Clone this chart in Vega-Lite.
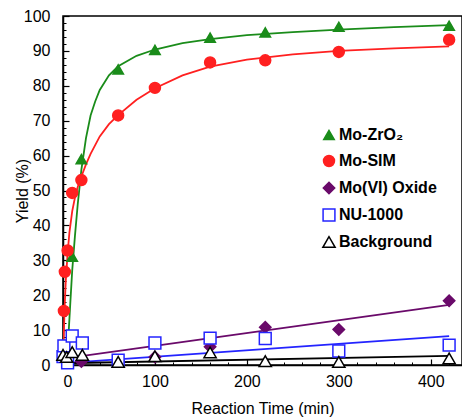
{
  "$schema": "https://vega.github.io/schema/vega-lite/v6.json",
  "width": 399,
  "height": 349,
  "autosize": {"type": "none"},
  "padding": {"left": 63, "top": 16, "right": 0, "bottom": 53},
  "background": "white",
  "config": {
    "view": {"stroke": "black", "strokeWidth": 1.5},
    "font": "Liberation Sans",
    "axis": {"grid": false, "domainColor": "black", "domainWidth": 1.5, "tickColor": "black", "labelColor": "black", "titleColor": "black"},
    "legend": {"orient": "none", "legendX": 258, "legendY": 111, "labelFontSize": 16, "labelFontWeight": "bold", "labelColor": "black", "symbolSize": 55, "symbolStrokeWidth": 1.5, "rowPadding": 9, "labelOffset": 2, "titleLimit": 0}
  },
  "datasets": {
    "pts": [
      {"s": "Mo-ZrO₂", "t": 10, "y": 31},
      {"s": "Mo-ZrO₂", "t": 20, "y": 59},
      {"s": "Mo-ZrO₂", "t": 60, "y": 84.7},
      {"s": "Mo-ZrO₂", "t": 100, "y": 90.3},
      {"s": "Mo-ZrO₂", "t": 160, "y": 93.8},
      {"s": "Mo-ZrO₂", "t": 220, "y": 95.3},
      {"s": "Mo-ZrO₂", "t": 300, "y": 96.9},
      {"s": "Mo-ZrO₂", "t": 420, "y": 97.2},
      {"s": "Mo-SIM", "t": 1, "y": 15.5},
      {"s": "Mo-SIM", "t": 2, "y": 26.7},
      {"s": "Mo-SIM", "t": 5, "y": 32.8},
      {"s": "Mo-SIM", "t": 10, "y": 49.3},
      {"s": "Mo-SIM", "t": 20, "y": 53},
      {"s": "Mo-SIM", "t": 60, "y": 71.5},
      {"s": "Mo-SIM", "t": 100, "y": 79.4},
      {"s": "Mo-SIM", "t": 160, "y": 86.7},
      {"s": "Mo-SIM", "t": 220, "y": 87.3},
      {"s": "Mo-SIM", "t": 300, "y": 89.7},
      {"s": "Mo-SIM", "t": 420, "y": 93.2},
      {"s": "Mo(VI) Oxide", "t": 20, "y": 1},
      {"s": "Mo(VI) Oxide", "t": 60, "y": 1.2},
      {"s": "Mo(VI) Oxide", "t": 100, "y": 2.3},
      {"s": "Mo(VI) Oxide", "t": 160, "y": 5.2},
      {"s": "Mo(VI) Oxide", "t": 220, "y": 10.8},
      {"s": "Mo(VI) Oxide", "t": 300, "y": 10.2},
      {"s": "Mo(VI) Oxide", "t": 420, "y": 18.4},
      {"s": "NU-1000", "t": 0, "y": 2.4},
      {"s": "NU-1000", "t": 1, "y": 5.5},
      {"s": "NU-1000", "t": 5, "y": 0.6},
      {"s": "NU-1000", "t": 10, "y": 8.3},
      {"s": "NU-1000", "t": 21, "y": 6.3},
      {"s": "NU-1000", "t": 60, "y": 1.4},
      {"s": "NU-1000", "t": 100, "y": 6.3},
      {"s": "NU-1000", "t": 160, "y": 7.7},
      {"s": "NU-1000", "t": 220, "y": 7.6},
      {"s": "NU-1000", "t": 300, "y": 4},
      {"s": "NU-1000", "t": 420, "y": 5.7},
      {"s": "Background", "t": 0, "y": 2.9},
      {"s": "Background", "t": 4, "y": 2.3},
      {"s": "Background", "t": 10, "y": 3.7},
      {"s": "Background", "t": 21, "y": 2.9},
      {"s": "Background", "t": 60, "y": 0.9},
      {"s": "Background", "t": 100, "y": 2.5},
      {"s": "Background", "t": 160, "y": 3.6},
      {"s": "Background", "t": 220, "y": 1.1},
      {"s": "Background", "t": 300, "y": 0.9},
      {"s": "Background", "t": 420, "y": 1.9}
    ],
    "fit": [
      {"s": "Mo-ZrO₂", "t": 3, "y": 0},
      {"s": "Mo-ZrO₂", "t": 5, "y": 4},
      {"s": "Mo-ZrO₂", "t": 8, "y": 18},
      {"s": "Mo-ZrO₂", "t": 10, "y": 27},
      {"s": "Mo-ZrO₂", "t": 13, "y": 37},
      {"s": "Mo-ZrO₂", "t": 16, "y": 46},
      {"s": "Mo-ZrO₂", "t": 20, "y": 56},
      {"s": "Mo-ZrO₂", "t": 25, "y": 65},
      {"s": "Mo-ZrO₂", "t": 30, "y": 71.5},
      {"s": "Mo-ZrO₂", "t": 35, "y": 75.5},
      {"s": "Mo-ZrO₂", "t": 40, "y": 78.8},
      {"s": "Mo-ZrO₂", "t": 50, "y": 83},
      {"s": "Mo-ZrO₂", "t": 60, "y": 85.6},
      {"s": "Mo-ZrO₂", "t": 80, "y": 88.6},
      {"s": "Mo-ZrO₂", "t": 100, "y": 90.4},
      {"s": "Mo-ZrO₂", "t": 130, "y": 92.2},
      {"s": "Mo-ZrO₂", "t": 160, "y": 93.4},
      {"s": "Mo-ZrO₂", "t": 200, "y": 94.5},
      {"s": "Mo-ZrO₂", "t": 250, "y": 95.4},
      {"s": "Mo-ZrO₂", "t": 300, "y": 96.1},
      {"s": "Mo-ZrO₂", "t": 360, "y": 96.8},
      {"s": "Mo-ZrO₂", "t": 420, "y": 97.4},
      {"s": "Mo-SIM", "t": 0, "y": 0},
      {"s": "Mo-SIM", "t": 1, "y": 10},
      {"s": "Mo-SIM", "t": 2, "y": 18},
      {"s": "Mo-SIM", "t": 3, "y": 24},
      {"s": "Mo-SIM", "t": 5, "y": 32},
      {"s": "Mo-SIM", "t": 7, "y": 38},
      {"s": "Mo-SIM", "t": 10, "y": 44},
      {"s": "Mo-SIM", "t": 13, "y": 48},
      {"s": "Mo-SIM", "t": 16, "y": 51},
      {"s": "Mo-SIM", "t": 20, "y": 54},
      {"s": "Mo-SIM", "t": 25, "y": 57.5},
      {"s": "Mo-SIM", "t": 30, "y": 60.5},
      {"s": "Mo-SIM", "t": 40, "y": 65.5},
      {"s": "Mo-SIM", "t": 50, "y": 69},
      {"s": "Mo-SIM", "t": 60, "y": 71.6},
      {"s": "Mo-SIM", "t": 80, "y": 76},
      {"s": "Mo-SIM", "t": 100, "y": 79.3},
      {"s": "Mo-SIM", "t": 130, "y": 83},
      {"s": "Mo-SIM", "t": 160, "y": 85.5},
      {"s": "Mo-SIM", "t": 200, "y": 87.5},
      {"s": "Mo-SIM", "t": 250, "y": 89},
      {"s": "Mo-SIM", "t": 300, "y": 90},
      {"s": "Mo-SIM", "t": 360, "y": 90.7},
      {"s": "Mo-SIM", "t": 420, "y": 91.3},
      {"s": "Mo(VI) Oxide", "t": 10, "y": 2.2},
      {"s": "Mo(VI) Oxide", "t": 420, "y": 17.2},
      {"s": "NU-1000", "t": 5, "y": 0.6},
      {"s": "NU-1000", "t": 420, "y": 8.3},
      {"s": "Background", "t": 0, "y": 0.5},
      {"s": "Background", "t": 420, "y": 2.6}
    ],
    "minor": [
      {"t": 0, "y": 0}
    ]
  },
  "layer": [
    {
      "data": {"name": "fit"},
      "mark": {"type": "line", "strokeWidth": 1.8, "clip": true},
      "encoding": {
        "x": {
          "field": "t", "type": "quantitative",
          "scale": {"domain": [0, 434], "nice": false, "zero": false},
          "axis": {"values": [0, 100, 200, 300, 400], "tickSize": -6, "tickWidth": 1.2, "labelFontSize": 16, "labelPadding": 14, "title": "Reaction Time (min)", "titleFontSize": 16, "titleFontWeight": "normal", "titleY": 35}
        },
        "y": {
          "field": "y", "type": "quantitative",
          "scale": {"domain": [0, 100], "nice": false},
          "axis": {"values": [0, 10, 20, 30, 40, 50, 60, 70, 80, 90, 100], "tickSize": -6, "tickWidth": 1.2, "labelFontSize": 16, "labelPadding": 19, "title": "Yield (%)", "titleFontSize": 16, "titleFontWeight": "normal", "titleX": -33}
        },
        "detail": {"field": "s", "type": "nominal"},
        "stroke": {
          "field": "s", "type": "nominal",
          "scale": {"domain": ["Mo-ZrO₂", "Mo-SIM", "Mo(VI) Oxide", "NU-1000", "Background"], "range": ["#1a8c1a", "#ff2020", "#6a0a6a", "#2424ff", "#000000"]},
          "legend": {"title": null}
        }
      }
    },
    {
      "data": {"name": "pts"},
      "mark": {"type": "point", "strokeWidth": 1.5, "opacity": 1},
      "encoding": {
        "x": {"field": "t", "type": "quantitative", "axis": null},
        "y": {"field": "y", "type": "quantitative", "axis": null},
        "shape": {
          "field": "s", "type": "nominal",
          "scale": {"domain": ["Mo-ZrO₂", "Mo-SIM", "Mo(VI) Oxide", "NU-1000", "Background"], "range": ["triangle-up", "circle", "diamond", "square", "triangle-up"]},
          "legend": {"title": null}
        },
        "stroke": {
          "field": "s", "type": "nominal",
          "legend": {"title": null}
        },
        "fill": {
          "field": "s", "type": "nominal",
          "scale": {"domain": ["Mo-ZrO₂", "Mo-SIM", "Mo(VI) Oxide", "NU-1000", "Background"], "range": ["#1a8c1a", "#ff2020", "#6a0a6a", "#ffffff", "#ffffff"]},
          "legend": {"title": null}
        },
        "size": {
          "field": "s", "type": "nominal",
          "scale": {"domain": ["Mo-ZrO₂", "Mo-SIM", "Mo(VI) Oxide", "NU-1000", "Background"], "range": [110, 150, 60, 100, 70]},
          "legend": null
        }
      }
    },
    {
      "data": {"name": "minor"},
      "mark": {"type": "point", "opacity": 0},
      "encoding": {
        "x": {"field": "t", "type": "quantitative",
          "axis": {"orient": "bottom", "values": [20, 40, 60, 80, 120, 140, 160, 180, 220, 240, 260, 280, 320, 340, 360, 380, 420], "tickSize": -3, "tickWidth": 1, "labels": false, "domain": false, "title": null}},
        "y": {"field": "y", "type": "quantitative",
          "axis": {"orient": "left", "values": [2, 4, 6, 8, 12, 14, 16, 18, 22, 24, 26, 28, 32, 34, 36, 38, 42, 44, 46, 48, 52, 54, 56, 58, 62, 64, 66, 68, 72, 74, 76, 78, 82, 84, 86, 88, 92, 94, 96, 98], "tickSize": -3, "tickWidth": 1, "labels": false, "domain": false, "title": null}}
      }
    }
  ],
  "resolve": {"axis": {"x": "independent", "y": "independent"}}
}
